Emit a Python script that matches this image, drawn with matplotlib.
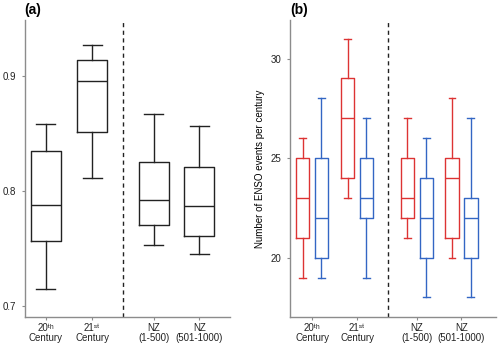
import matplotlib

matplotlib.use("Agg")
import matplotlib.pyplot as plt

plt.rcParams["font.family"] = ["Liberation Sans", "DejaVu Sans"]

# category labels
labels = ["20\u1d57\u02b0\nCentury", "21\u02e2\u1d57\nCentury", "NZ\n(1-500)", "NZ\n(501-1000)"]
positions = [1, 2, 3.33, 4.32]
divider_x = 2.66

# panel (a): (whisker low, Q1, median, Q3, whisker high)
corr_stats = [
  (0.714, 0.7565, 0.788, 0.835, 0.858),
  (0.811, 0.8515, 0.896, 0.9145, 0.927),
  (0.753, 0.770, 0.792, 0.825, 0.867),
  (0.745, 0.761, 0.787, 0.821, 0.857),
]

# panel (b): red and blue series, (low, Q1, median, Q3, high)
red_stats = [
  (19, 21, 23, 25, 26),
  (23, 24, 27, 29, 31),
  (21, 22, 23, 25, 27),
  (20, 21, 24, 25, 28),
]
blue_stats = [
  (19, 20, 22, 25, 28),
  (19, 22, 23, 25, 27),
  (18, 20, 22, 24, 26),
  (18, 20, 22, 23, 27),
]

RED = "#dd3333"
BLUE = "#3366c4"
SPINE = "#8c8c8c"


def to_bxp(stats):
  return [{"whislo": lo, "q1": q1, "med": med, "q3": q3, "whishi": hi,
           "fliers": [], "label": ""} for lo, q1, med, q3, hi in stats]


def draw(ax, stats, pos, color, width, capw):
  props = {"color": color, "linewidth": 1.0}
  ax.bxp(to_bxp(stats), positions=pos, widths=width, showfliers=False,
         boxprops=props, medianprops=props, whiskerprops=props,
         capprops=props, capwidths=capw, manage_ticks=False)


def style(ax):
  for s in ("top", "right"):
    ax.spines[s].set_visible(False)
  for s in ("left", "bottom"):
    ax.spines[s].set_color(SPINE)
    ax.spines[s].set_linewidth(1.0)
  ax.tick_params(colors=SPINE, labelcolor="#222222", labelsize=7, length=2.5, width=0.8)
  ax.tick_params(axis="x", pad=2)
  ax.set_xticks(positions)
  ax.set_xticklabels(labels, linespacing=1.0)


fig = plt.figure(figsize=(5.0, 3.46), dpi=100)
ax1 = fig.add_axes([0.049, 0.0838, 0.411, 0.858])
ax2 = fig.add_axes([0.580, 0.0838, 0.413, 0.858])

draw(ax1, corr_stats, positions, "#222222", 0.65, 0.41)
ax1.axvline(divider_x, color="#222222", linestyle=(0, (3, 2.5)), linewidth=1.0)
ax1.set_xlim(0.54, 4.98)
ax1.set_ylim(0.690, 0.949)
ax1.set_yticks([0.7, 0.8, 0.9])
style(ax1)

off = 0.21
draw(ax2, red_stats, [p - off for p in positions], RED, 0.30, 0.15)
draw(ax2, blue_stats, [p + off for p in positions], BLUE, 0.30, 0.15)
ax2.axvline(divider_x + 0.02, color="#222222", linestyle=(0, (3, 2.5)), linewidth=1.0)
ax2.set_xlim(0.51, 5.1)
ax2.set_ylim(17.02, 31.93)
ax2.set_yticks([20, 25, 30])
ax2.set_ylabel("Number of ENSO events per century", fontsize=7, labelpad=4)
style(ax2)

fig.text(0.049, 0.970, "(a)", fontsize=10, fontweight="bold", ha="left", va="center")
fig.text(0.580, 0.970, "(b)", fontsize=10, fontweight="bold", ha="left", va="center")

fig.savefig("out.png", dpi=100)
